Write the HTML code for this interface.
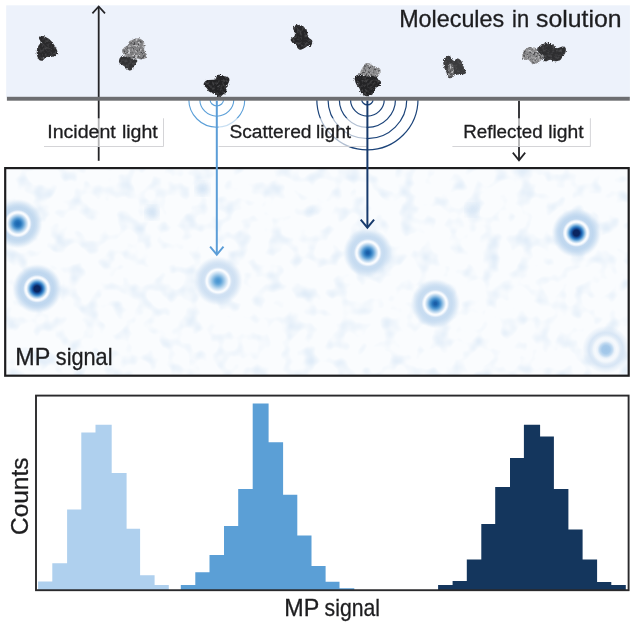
<!DOCTYPE html>
<html><head><meta charset="utf-8"><title>Mass photometry</title>
<style>
html,body{margin:0;padding:0;background:#fff;}
body{width:634px;height:622px;overflow:hidden;font-family:"Liberation Sans",sans-serif;}
svg{display:block;}
text{font-family:"Liberation Sans",sans-serif;fill:#1d1d1f;stroke:#1d1d1f;stroke-width:0.3px;}
</style></head><body>
<svg width="634" height="622" viewBox="0 0 634 622">
<defs>
<filter id="rough" color-interpolation-filters="sRGB" x="-20%" y="-20%" width="140%" height="140%">
<feTurbulence type="fractalNoise" baseFrequency="0.9" numOctaves="2" seed="3" result="n"/>
<feDisplacementMap in="SourceGraphic" in2="n" scale="3" xChannelSelector="R" yChannelSelector="G" result="d"/>
<feTurbulence type="fractalNoise" baseFrequency="0.4" numOctaves="2" seed="5" result="n2"/>
<feColorMatrix in="n2" type="matrix" values="0 0 0 0 0.30  0 0 0 0 0.30  0 0 0 0 0.31  2.5 0 0 0 -1.1" result="sp"/>
<feComposite in="sp" in2="d" operator="in" result="spi"/>
<feMerge result="m"><feMergeNode in="d"/><feMergeNode in="spi"/></feMerge>
<feGaussianBlur in="m" stdDeviation="0.4"/>
</filter>
<filter id="roughL" color-interpolation-filters="sRGB" x="-20%" y="-20%" width="140%" height="140%">
<feTurbulence type="fractalNoise" baseFrequency="0.9" numOctaves="2" seed="7" result="n"/>
<feDisplacementMap in="SourceGraphic" in2="n" scale="3" xChannelSelector="R" yChannelSelector="G" result="d"/>
<feTurbulence type="fractalNoise" baseFrequency="0.42" numOctaves="2" seed="9" result="n2"/>
<feColorMatrix in="n2" type="matrix" values="0 0 0 0 0.28  0 0 0 0 0.28  0 0 0 0 0.29  4 0 0 0 -1.95" result="sp"/>
<feComposite in="sp" in2="d" operator="in" result="spi"/>
<feTurbulence type="fractalNoise" baseFrequency="0.42" numOctaves="2" seed="21" result="n3"/>
<feColorMatrix in="n3" type="matrix" values="0 0 0 0 0.78  0 0 0 0 0.78  0 0 0 0 0.79  4 0 0 0 -2.05" result="sp2"/>
<feComposite in="sp2" in2="d" operator="in" result="spi2"/>
<feMerge result="m"><feMergeNode in="d"/><feMergeNode in="spi"/><feMergeNode in="spi2"/></feMerge>
<feGaussianBlur in="m" stdDeviation="0.4"/>
</filter>
<filter id="blur3" color-interpolation-filters="sRGB"><feGaussianBlur stdDeviation="3"/></filter>
<filter id="noise" color-interpolation-filters="sRGB" x="0" y="0" width="100%" height="100%">
<feTurbulence type="fractalNoise" baseFrequency="0.06" numOctaves="2" seed="11" result="t"/>
<feColorMatrix in="t" type="matrix" values="0 0 0 0 0.87  0 0 0 0 0.92  0 0 0 0 0.97  2.5 0 0 0 -1.27"/>
</filter>
<clipPath id="picclip"><rect x="5.2" y="168.2" width="623.5" height="207.5"/></clipPath>
<radialGradient id="gA" cx="0.5" cy="0.5" r="0.5"><stop offset="0.000" stop-color="#1d69b2" stop-opacity="1.00"/><stop offset="0.048" stop-color="#1d69b2" stop-opacity="1.00"/><stop offset="0.128" stop-color="#2a78bd" stop-opacity="1.00"/><stop offset="0.216" stop-color="#5a9dd4" stop-opacity="1.00"/><stop offset="0.312" stop-color="#a6cbe9" stop-opacity="1.00"/><stop offset="0.380" stop-color="#d9e8f6" stop-opacity="1.00"/><stop offset="0.428" stop-color="#f8fbfe" stop-opacity="1.00"/><stop offset="0.468" stop-color="#f8fbfe" stop-opacity="1.00"/><stop offset="0.512" stop-color="#e2ecf8" stop-opacity="1.00"/><stop offset="0.560" stop-color="#bfd7ee" stop-opacity="0.90"/><stop offset="0.660" stop-color="#bfd7ee" stop-opacity="0.95"/><stop offset="0.760" stop-color="#bfd7ee" stop-opacity="0.76"/><stop offset="0.860" stop-color="#bfd7ee" stop-opacity="0.43"/><stop offset="0.940" stop-color="#bfd7ee" stop-opacity="0.14"/><stop offset="1.000" stop-color="#bfd7ee" stop-opacity="0.00"/></radialGradient>
<radialGradient id="gB" cx="0.5" cy="0.5" r="0.5"><stop offset="0.000" stop-color="#0a2560" stop-opacity="1.00"/><stop offset="0.120" stop-color="#0a2560" stop-opacity="1.00"/><stop offset="0.208" stop-color="#1b5fae" stop-opacity="1.00"/><stop offset="0.272" stop-color="#4a92cf" stop-opacity="1.00"/><stop offset="0.340" stop-color="#a0c8e8" stop-opacity="1.00"/><stop offset="0.392" stop-color="#d9e8f6" stop-opacity="1.00"/><stop offset="0.428" stop-color="#f8fbfe" stop-opacity="1.00"/><stop offset="0.468" stop-color="#f8fbfe" stop-opacity="1.00"/><stop offset="0.512" stop-color="#e2ecf8" stop-opacity="1.00"/><stop offset="0.560" stop-color="#bcd5ee" stop-opacity="0.90"/><stop offset="0.660" stop-color="#bcd5ee" stop-opacity="0.95"/><stop offset="0.760" stop-color="#bcd5ee" stop-opacity="0.76"/><stop offset="0.860" stop-color="#bcd5ee" stop-opacity="0.43"/><stop offset="0.940" stop-color="#bcd5ee" stop-opacity="0.14"/><stop offset="1.000" stop-color="#bcd5ee" stop-opacity="0.00"/></radialGradient>
<radialGradient id="gC" cx="0.5" cy="0.5" r="0.5"><stop offset="0.000" stop-color="#4d98d3" stop-opacity="1.00"/><stop offset="0.048" stop-color="#4d98d3" stop-opacity="1.00"/><stop offset="0.128" stop-color="#62a5d9" stop-opacity="1.00"/><stop offset="0.216" stop-color="#8fbfe4" stop-opacity="1.00"/><stop offset="0.312" stop-color="#c2dcf1" stop-opacity="1.00"/><stop offset="0.380" stop-color="#e3eef9" stop-opacity="1.00"/><stop offset="0.428" stop-color="#f8fbfe" stop-opacity="1.00"/><stop offset="0.468" stop-color="#f8fbfe" stop-opacity="1.00"/><stop offset="0.512" stop-color="#e2ecf8" stop-opacity="1.00"/><stop offset="0.560" stop-color="#cddff2" stop-opacity="0.90"/><stop offset="0.660" stop-color="#cddff2" stop-opacity="0.95"/><stop offset="0.760" stop-color="#cddff2" stop-opacity="0.76"/><stop offset="0.860" stop-color="#cddff2" stop-opacity="0.43"/><stop offset="0.940" stop-color="#cddff2" stop-opacity="0.14"/><stop offset="1.000" stop-color="#cddff2" stop-opacity="0.00"/></radialGradient>
<radialGradient id="gD" cx="0.5" cy="0.5" r="0.5"><stop offset="0.000" stop-color="#1a5ea8" stop-opacity="1.00"/><stop offset="0.048" stop-color="#1a5ea8" stop-opacity="1.00"/><stop offset="0.128" stop-color="#2a78bd" stop-opacity="1.00"/><stop offset="0.216" stop-color="#5a9dd4" stop-opacity="1.00"/><stop offset="0.312" stop-color="#a6cbe9" stop-opacity="1.00"/><stop offset="0.380" stop-color="#d9e8f6" stop-opacity="1.00"/><stop offset="0.428" stop-color="#f8fbfe" stop-opacity="1.00"/><stop offset="0.468" stop-color="#f8fbfe" stop-opacity="1.00"/><stop offset="0.512" stop-color="#e2ecf8" stop-opacity="1.00"/><stop offset="0.560" stop-color="#c4daf0" stop-opacity="0.90"/><stop offset="0.660" stop-color="#c4daf0" stop-opacity="0.95"/><stop offset="0.760" stop-color="#c4daf0" stop-opacity="0.76"/><stop offset="0.860" stop-color="#c4daf0" stop-opacity="0.43"/><stop offset="0.940" stop-color="#c4daf0" stop-opacity="0.14"/><stop offset="1.000" stop-color="#c4daf0" stop-opacity="0.00"/></radialGradient><radialGradient id="gE" cx="0.5" cy="0.5" r="0.5"><stop offset="0.000" stop-color="#9fc5e8" stop-opacity="1"/><stop offset="0.167" stop-color="#a5c9ea" stop-opacity="1"/><stop offset="0.271" stop-color="#c3dbf1" stop-opacity="1"/><stop offset="0.354" stop-color="#eaf2fa" stop-opacity="1"/><stop offset="0.438" stop-color="#f6f9fd" stop-opacity="1"/><stop offset="0.521" stop-color="#f1f6fb" stop-opacity="1"/><stop offset="0.625" stop-color="#d8e6f5" stop-opacity="0.8"/><stop offset="0.708" stop-color="#d8e6f5" stop-opacity="1"/><stop offset="0.833" stop-color="#d8e6f5" stop-opacity="0.5"/><stop offset="1.000" stop-color="#d8e6f5" stop-opacity="0"/></radialGradient>
</defs>
<rect width="634" height="622" fill="#ffffff"/>
<!-- solution -->
<rect x="6.2" y="5.3" width="623.7" height="92" fill="#edf2fb"/>
<!-- incident arrow -->
<path d="M98.7,160.8V6.8" stroke="#242427" stroke-width="1.8" fill="none"/>
<path d="M92.4,13.4L98.7,6.4L105,13.4" stroke="#242427" stroke-width="1.7" fill="none"/>
<!-- reflected arrow -->
<path d="M519,100.7V160" stroke="#242427" stroke-width="1.8" fill="none"/>
<path d="M512.8,152.6L519,160.4L525.2,152.6" stroke="#242427" stroke-width="1.7" fill="none"/>
<!-- scattered light (light blue) -->
<g stroke="#5b9fd8" stroke-width="1.1" fill="none">
<path d="M210.0,99.2A6.8,6.8 0 0 0 223.6,99.2"/>
<path d="M199.8,99.2A17,17 0 0 0 233.8,99.2"/>
<path d="M188.8,99.2A28,28 0 0 0 244.8,99.2"/>
</g>
<!-- scattered dark -->
<g stroke="#1b4379" stroke-width="1.2" fill="none">
<path d="M361.7,99.2A5.7,5.7 0 0 0 373.1,99.2"/>
<path d="M350.5,99.2A16.9,16.9 0 0 0 384.3,99.2"/>
<path d="M339.3,99.2A28.1,28.1 0 0 0 395.5,99.2"/>
<path d="M328.0,99.2A39.4,39.4 0 0 0 406.8,99.2"/>
<path d="M316.8,99.2A50.6,50.6 0 0 0 418.0,99.2"/>
</g>
<rect x="6.9" y="96.8" width="622.9" height="3.9" fill="#6d6e71"/>
<!-- label boxes -->
<g>
<rect x="44" y="118.3" width="119.5" height="28.2" fill="#ffffff" fill-opacity="0.66"/>
<path d="M44,146.5H163.5V118.3" stroke="#cfcfd2" stroke-width="0.9" fill="none"/>
<rect x="218.6" y="118.3" width="148" height="28.2" fill="#ffffff" fill-opacity="0.66"/>
<path d="M218.6,146.5H366.6" stroke="#cfcfd2" stroke-width="0.9" fill="none"/>
<rect x="452.4" y="118.3" width="138" height="28.2" fill="#ffffff" fill-opacity="0.66"/>
<path d="M452.4,146.5H590.4V118.3" stroke="#cfcfd2" stroke-width="0.9" fill="none"/>
</g>
<!-- pic -->
<rect x="5.2" y="168.2" width="623.5" height="207.5" fill="#fafcfe"/>
<g clip-path="url(#picclip)">
<rect x="5.2" y="168.2" width="623.5" height="207.5" filter="url(#noise)"/>
<circle cx="202.5" cy="188.7" r="6.5" fill="#cfe1f3" opacity="0.9" filter="url(#blur3)"/><circle cx="152" cy="212.3" r="6.5" fill="#cfe1f3" opacity="0.9" filter="url(#blur3)"/><circle cx="472" cy="210" r="6" fill="#cfe1f3" opacity="0.8" filter="url(#blur3)"/>
<circle cx="17.8" cy="223.7" r="25" fill="url(#gA)"/><circle cx="37.1" cy="288.8" r="25" fill="url(#gB)"/><circle cx="218" cy="281" r="25" fill="url(#gC)"/><circle cx="367.8" cy="252.8" r="25" fill="url(#gD)"/><circle cx="435.4" cy="303.6" r="25" fill="url(#gD)"/><circle cx="576.4" cy="233" r="25" fill="url(#gB)"/><circle cx="606" cy="349.6" r="24" fill="url(#gE)"/>
</g>
<!-- vertical lines over pic -->
<rect x="5.2" y="168.1" width="623.5" height="207.6" fill="none" stroke="#1d1d1f" stroke-width="2.2"/>
<path d="M216.8,100.7V254" stroke="#5b9dd7" stroke-width="2" fill="none"/>
<path d="M210.1,246.7L216.8,254.7L223.5,246.7" stroke="#5b9dd7" stroke-width="1.9" fill="none"/>
<path d="M367.4,100.7V227" stroke="#173a6c" stroke-width="2" fill="none"/>
<path d="M360.7,219.6L367.4,227.6L374.1,219.6" stroke="#173a6c" stroke-width="2" fill="none"/>
<!-- molecules -->
<path d="M38.9,37.7Q38.9,36.4 41.1,36.1Q43.3,35.8 46.5,37.4Q49.7,38.9 51.9,41.8Q54.1,44.6 56.0,48.1Q57.9,51.5 57.5,53.8Q57.2,56.0 54.4,56.6Q51.5,57.2 48.7,56.9Q45.9,56.6 44.6,58.5Q43.3,60.4 41.5,60.7Q39.6,61.0 38.3,58.8Q37.0,56.6 36.7,53.4Q36.4,50.3 37.7,47.4Q38.9,44.6 40.2,43.7Q41.5,42.7 40.2,40.8Q38.9,38.9 38.9,37.7Z" fill="#29292b" filter="url(#rough)"/><path d="M129.7,41.1Q130.9,40.2 134.4,38.9Q137.9,37.7 140.7,38.9Q143.5,40.2 144.2,42.7Q144.8,45.2 144.2,48.4Q143.5,51.5 145.4,52.8Q147.3,54.1 147.0,56.3Q146.7,58.5 143.5,59.1Q140.4,59.7 138.5,58.8Q136.6,57.9 134.1,58.5Q131.5,59.1 128.4,57.9Q125.2,56.6 123.3,54.1Q121.5,51.5 122.7,49.3Q124.0,47.1 126.2,46.2Q128.4,45.2 128.4,43.7Q128.4,42.1 129.7,41.1Z" fill="#848486" filter="url(#roughL)"/><path d="M119.9,57.9Q120.8,56.0 123.0,56.2Q125.2,56.3 128.4,57.6Q131.5,58.9 134.4,59.2Q137.2,59.5 137.5,60.9Q137.9,62.3 136.0,63.8Q134.1,65.4 132.8,68.3Q131.5,71.1 129.3,70.5Q127.1,69.8 125.6,67.6Q124.0,65.4 121.5,64.5Q118.9,63.5 118.9,61.6Q118.9,59.7 119.9,57.9Z" fill="#333335" filter="url(#rough)"/><path d="M203.7,84.7Q203.3,83.4 204.6,81.9Q205.9,80.3 208.7,80.0Q211.5,79.7 213.8,79.7Q216.0,79.7 216.3,77.4Q216.6,75.2 218.5,74.9Q220.4,74.6 222.3,75.6Q224.2,76.5 226.4,76.8Q228.6,77.1 229.2,78.4Q229.8,79.7 228.9,81.9Q227.9,84.1 227.0,86.0Q226.1,87.9 226.4,90.4Q226.7,92.9 224.8,93.5Q222.9,94.2 221.6,95.7Q220.4,97.3 218.5,96.4Q216.6,95.4 214.4,94.2Q212.2,92.9 210.3,92.3Q208.4,91.6 207.8,89.7Q207.1,87.9 205.6,86.9Q204.0,86.0 203.7,84.7Z" fill="#222224" filter="url(#rough)"/><path d="M293.4,29.6Q292.2,27.7 293.8,26.4Q295.3,25.1 297.9,24.8Q300.4,24.5 302.0,25.8Q303.5,27.0 305.1,28.0Q306.7,28.9 307.0,31.1Q307.3,33.3 307.9,35.9Q308.6,38.4 310.8,39.3Q313.0,40.3 312.1,43.4Q311.1,46.6 309.5,46.0Q307.9,45.3 306.7,46.6Q305.4,47.9 302.6,49.1Q299.7,50.4 298.2,48.8Q296.6,47.2 296.0,45.3Q295.3,43.4 293.1,42.5Q290.9,41.5 290.6,40.0Q290.3,38.4 292.8,37.4Q295.3,36.5 295.0,34.0Q294.7,31.5 293.4,29.6Z" fill="#262628" filter="url(#rough)"/><path d="M363.8,65.5Q365.3,62.6 367.9,62.9Q370.4,63.2 372.0,65.1Q373.5,67.0 376.1,67.0Q378.6,67.0 379.8,68.6Q381.1,70.2 380.5,72.1Q379.8,74.0 378.6,75.7Q377.3,77.5 374.5,76.6Q371.6,75.7 369.1,76.6Q366.6,77.5 364.1,76.9Q361.5,76.2 360.6,74.5Q359.7,72.7 360.9,70.5Q362.2,68.3 363.8,65.5Z" fill="#8e8e90" filter="url(#roughL)"/><path d="M354.6,78.1Q354.6,75.9 357.1,74.9Q359.7,74.0 363.1,75.6Q366.6,77.1 369.1,76.2Q371.6,75.2 374.5,76.2Q377.3,77.1 377.6,78.4Q377.9,79.7 379.5,80.3Q381.1,80.9 381.1,83.1Q381.1,85.3 378.9,86.0Q376.7,86.6 375.4,88.5Q374.2,90.4 373.8,92.3Q373.5,94.2 370.7,95.4Q367.9,96.7 365.6,96.1Q363.4,95.4 361.9,93.5Q360.3,91.6 360.0,89.7Q359.7,87.9 358.1,86.6Q356.5,85.3 355.6,82.8Q354.6,80.3 354.6,78.1Z" fill="#232325" filter="url(#rough)"/><path d="M443.3,63.4Q442.7,61.5 444.3,59.3Q445.9,57.1 447.8,56.1Q449.7,55.0 450.6,57.0Q451.5,59.0 452.8,60.3Q454.1,61.5 455.0,60.0Q456.0,58.4 457.5,58.4Q459.1,58.4 460.7,60.3Q462.3,62.2 462.9,64.7Q463.5,67.2 464.8,69.1Q466.1,71.0 465.4,72.9Q464.8,74.8 462.6,74.2Q460.4,73.5 458.5,74.5Q456.6,75.4 455.0,74.5Q453.4,73.5 453.1,75.7Q452.8,77.9 450.3,78.3Q447.8,78.6 447.4,75.7Q447.1,72.9 445.9,71.3Q444.6,69.7 444.3,67.5Q444.0,65.3 443.3,63.4Z" fill="#3a3a3c" filter="url(#rough)"/><path d="M448.5,65.3Q449.0,63.4 450.8,63.2Q452.6,63.1 453.2,65.5Q453.8,67.9 453.8,70.4Q453.8,72.9 453.3,75.3Q452.8,77.7 450.4,78.0Q448.0,78.3 447.7,75.3Q447.4,72.3 447.7,69.7Q448.0,67.2 448.5,65.3Z" fill="#6c6c6e" filter="url(#roughL)"/><path d="M522.4,58.5Q521.5,56.6 522.7,53.1Q524.0,49.7 527.1,48.1Q530.3,46.5 533.4,47.1Q536.6,47.8 537.2,50.3Q537.9,52.8 541.0,54.1Q544.2,55.3 542.9,57.9Q541.6,60.4 538.5,62.3Q535.3,64.2 533.1,63.5Q530.9,62.9 529.7,61.0Q528.4,59.1 525.9,59.7Q523.3,60.4 522.4,58.5Z" fill="#8c8c8e" filter="url(#roughL)"/><path d="M537.2,50.3Q536.6,47.8 539.1,46.2Q541.6,44.6 544.8,43.3Q547.9,42.1 551.1,43.7Q554.3,45.2 555.2,47.1Q556.2,49.0 559.6,47.4Q563.1,45.9 564.7,46.8Q566.2,47.8 565.9,50.6Q565.6,53.4 563.7,55.6Q561.8,57.9 561.2,59.1Q560.6,60.4 557.4,61.0Q554.3,61.6 552.4,60.4Q550.5,59.1 547.3,60.7Q544.2,62.3 543.5,60.1Q542.9,57.9 543.5,56.6Q544.2,55.3 541.0,54.1Q537.9,52.8 537.2,50.3Z" fill="#2e2e30" filter="url(#rough)"/>
<!-- histogram -->
<path d="M38.1,590.2L38.1,581.4L52.3,581.4L52.3,563.2L67.1,563.2L67.1,509.5L81.3,509.5L81.3,432.5L95.5,432.5L95.5,424.8L111.7,424.8L111.7,473.1L126.6,473.1L126.6,528.8L140.1,528.8L140.1,575.3L154.6,575.3L154.6,585.1L168.8,585.1L168.8,590.2Z" fill="#afd0ee"/><path d="M180.8,590.2L180.8,585.1L195.3,585.1L195.3,572.3L209.5,572.3L209.5,555.1L224.0,555.1L224.0,526.1L238.2,526.1L238.2,488.9L252.7,488.9L252.7,403.5L268.6,403.5L268.6,442.3L283.1,442.3L283.1,494.7L297.3,494.7L297.3,535.5L311.5,535.5L311.5,565.9L325.6,565.9L325.6,581.8L339.5,581.8L339.5,588.2L354.3,588.2L354.3,590.2Z" fill="#5b9fd6"/><path d="M438.1,590.2L438.1,585.1L452.6,585.1L452.6,581.1L466.8,581.1L466.8,559.5L481.3,559.5L481.3,524.0L495.2,524.0L495.2,486.9L510.0,486.9L510.0,457.9L523.9,457.9L523.9,424.8L540.1,424.8L540.1,436.6L553.9,436.6L553.9,488.9L568.4,488.9L568.4,529.4L582.6,529.4L582.6,559.5L597.1,559.5L597.1,582.1L611.3,582.1L611.3,585.1L625.8,585.1L625.8,590.2Z" fill="#14365d"/>
<rect x="36" y="395.6" width="592.6" height="194.6" fill="none" stroke="#2a2a2c" stroke-width="1.9"/>
<!-- text -->
<g opacity="0.995">
<text x="399.2" y="26.9" font-size="23.2" textLength="105.0" lengthAdjust="spacingAndGlyphs">Molecules</text>
<text x="512.0" y="26.9" font-size="23.2" textLength="17.1" lengthAdjust="spacingAndGlyphs">in</text>
<text x="536.0" y="26.9" font-size="23.2" textLength="85.5" lengthAdjust="spacingAndGlyphs">solution</text>
<text x="47.2" y="137.8" font-size="18.8" textLength="68.6" lengthAdjust="spacingAndGlyphs">Incident</text>
<text x="121.9" y="137.8" font-size="18.8" textLength="35.9" lengthAdjust="spacingAndGlyphs">light</text>
<text x="229.4" y="137.8" font-size="18.8" textLength="82.1" lengthAdjust="spacingAndGlyphs">Scattered</text>
<text x="316.0" y="137.8" font-size="18.8" textLength="35.1" lengthAdjust="spacingAndGlyphs">light</text>
<text x="463.2" y="137.8" font-size="18.8" textLength="79.4" lengthAdjust="spacingAndGlyphs">Reflected</text>
<text x="548.2" y="137.8" font-size="18.8" textLength="35.4" lengthAdjust="spacingAndGlyphs">light</text>
<text x="15.3" y="364.5" font-size="23.2" textLength="35.0" lengthAdjust="spacingAndGlyphs">MP</text>
<text x="55.8" y="364.5" font-size="23.2" textLength="56.7" lengthAdjust="spacingAndGlyphs">signal</text>
<text x="284.3" y="615.8" font-size="23.2" textLength="35.0" lengthAdjust="spacingAndGlyphs">MP</text>
<text x="324.6" y="615.8" font-size="23.2" textLength="55.4" lengthAdjust="spacingAndGlyphs">signal</text>
<text transform="translate(28.2,535) rotate(-90)" font-size="23.2" textLength="77.5" lengthAdjust="spacingAndGlyphs">Counts</text>
</g>
</svg>
</body></html>
